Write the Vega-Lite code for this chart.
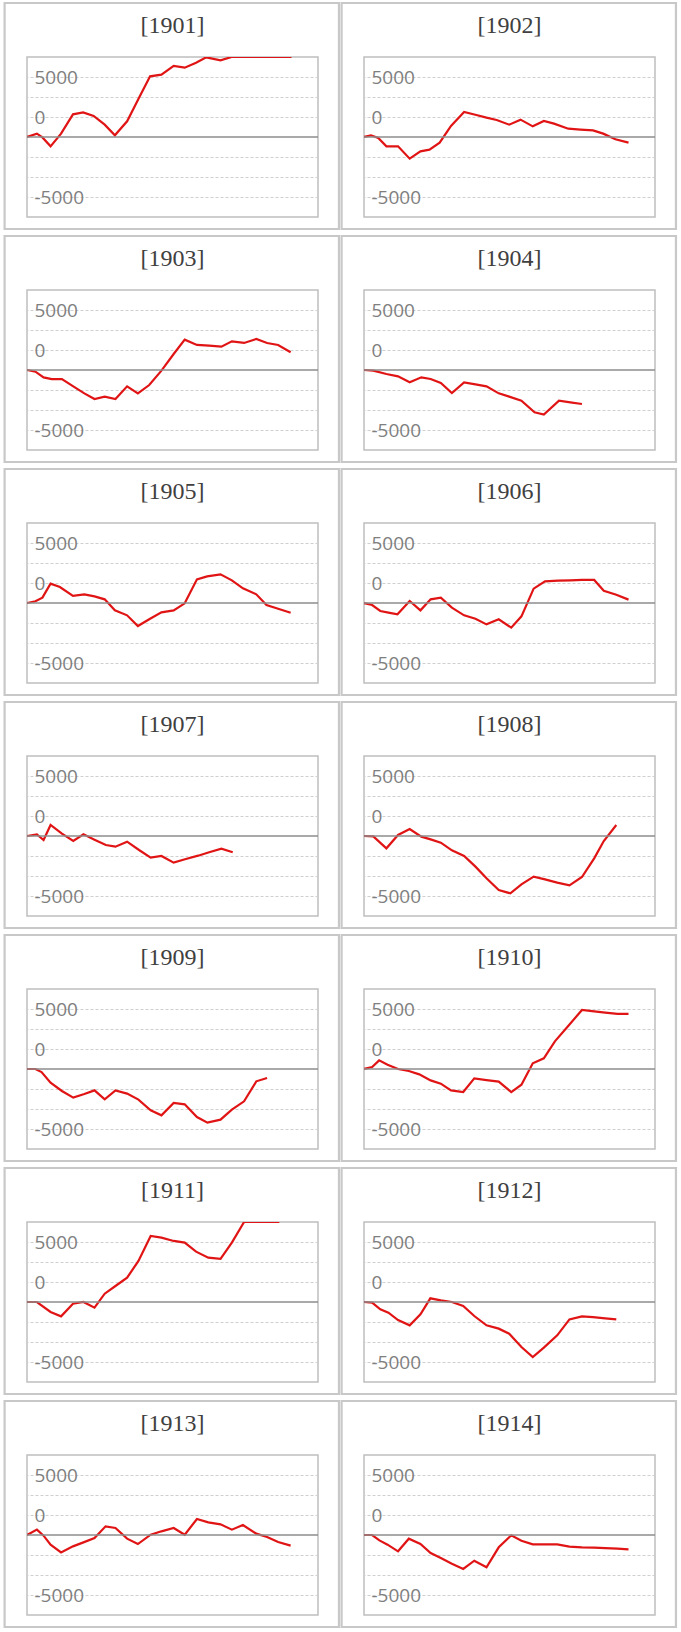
{
"$schema": "https://vega.github.io/schema/vega-lite/v6.json",
"padding": {"left": 2, "top": 1, "right": 0, "bottom": 0},
"background": "white",
"datasets": {"s": [
{"year":1901,"x":0,"v":0},{"year":1901,"x":3.4,"v":420},{"year":1901,"x":5.3,"v":-50},{"year":1901,"x":8.1,"v":-1170},{"year":1901,"x":11.7,"v":420},{"year":1901,"x":15.8,"v":2830},{"year":1901,"x":19.3,"v":3080},{"year":1901,"x":22.9,"v":2630},{"year":1901,"x":26.7,"v":1540},{"year":1901,"x":30.2,"v":210},{"year":1901,"x":34.4,"v":1960},{"year":1901,"x":38.5,"v":4900},{"year":1901,"x":42.3,"v":7580},{"year":1901,"x":46.2,"v":7790},{"year":1901,"x":50.4,"v":8880},{"year":1901,"x":54.2,"v":8670},{"year":1901,"x":58.1,"v":9290},{"year":1901,"x":61.6,"v":9960},{"year":1901,"x":66.5,"v":9580},{"year":1901,"x":70.3,"v":10000},{"year":1901,"x":74.5,"v":10000},{"year":1901,"x":78.7,"v":10000},{"year":1901,"x":82.9,"v":10000},{"year":1901,"x":86.7,"v":10000},{"year":1901,"x":90.9,"v":10000},
{"year":1902,"x":0,"v":0},{"year":1902,"x":2.4,"v":210},{"year":1902,"x":4.9,"v":-130},{"year":1902,"x":7.7,"v":-1170},{"year":1902,"x":11.7,"v":-1170},{"year":1902,"x":15.7,"v":-2710},{"year":1902,"x":19.4,"v":-1790},{"year":1902,"x":22.5,"v":-1580},{"year":1902,"x":26.0,"v":-710},{"year":1902,"x":29.9,"v":1380},{"year":1902,"x":34.4,"v":3130},{"year":1902,"x":38.6,"v":2750},{"year":1902,"x":42.1,"v":2420},{"year":1902,"x":45.6,"v":2130},{"year":1902,"x":49.9,"v":1540},{"year":1902,"x":53.8,"v":2170},{"year":1902,"x":58.0,"v":1330},{"year":1902,"x":61.8,"v":2000},{"year":1902,"x":65.3,"v":1670},{"year":1902,"x":70.2,"v":1040},{"year":1902,"x":74.4,"v":920},{"year":1902,"x":78.7,"v":830},{"year":1902,"x":82.2,"v":420},{"year":1902,"x":86.4,"v":-290},{"year":1902,"x":90.9,"v":-710},
{"year":1903,"x":0,"v":0},{"year":1903,"x":2.9,"v":-210},{"year":1903,"x":5.7,"v":-920},{"year":1903,"x":8.5,"v":-1130},{"year":1903,"x":12.0,"v":-1130},{"year":1903,"x":15.9,"v":-2040},{"year":1903,"x":19.7,"v":-2920},{"year":1903,"x":23.2,"v":-3630},{"year":1903,"x":26.7,"v":-3330},{"year":1903,"x":30.4,"v":-3630},{"year":1903,"x":34.4,"v":-2040},{"year":1903,"x":38.1,"v":-2920},{"year":1903,"x":42.0,"v":-1880},{"year":1903,"x":46.2,"v":-80},{"year":1903,"x":50.4,"v":2000},{"year":1903,"x":54.2,"v":3790},{"year":1903,"x":58.4,"v":3130},{"year":1903,"x":62.6,"v":3040},{"year":1903,"x":66.8,"v":2920},{"year":1903,"x":70.4,"v":3580},{"year":1903,"x":74.6,"v":3380},{"year":1903,"x":78.8,"v":3880},{"year":1903,"x":82.5,"v":3380},{"year":1903,"x":86.3,"v":3130},{"year":1903,"x":90.6,"v":2210},
{"year":1904,"x":0,"v":0},{"year":1904,"x":3.2,"v":-80},{"year":1904,"x":7.7,"v":-500},{"year":1904,"x":11.7,"v":-790},{"year":1904,"x":15.7,"v":-1540},{"year":1904,"x":19.7,"v":-920},{"year":1904,"x":22.9,"v":-1130},{"year":1904,"x":26.4,"v":-1630},{"year":1904,"x":30.2,"v":-2880},{"year":1904,"x":34.4,"v":-1540},{"year":1904,"x":38.3,"v":-1790},{"year":1904,"x":42.1,"v":-2040},{"year":1904,"x":46.3,"v":-2920},{"year":1904,"x":49.9,"v":-3330},{"year":1904,"x":54.1,"v":-3830},{"year":1904,"x":58.6,"v":-5290},{"year":1904,"x":61.8,"v":-5580},{"year":1904,"x":67.0,"v":-3830},{"year":1904,"x":70.9,"v":-4040},{"year":1904,"x":74.9,"v":-4250},
{"year":1905,"x":0,"v":0},{"year":1905,"x":2.9,"v":210},{"year":1905,"x":5.3,"v":670},{"year":1905,"x":8.1,"v":2420},{"year":1905,"x":11.3,"v":2000},{"year":1905,"x":15.8,"v":880},{"year":1905,"x":19.7,"v":1080},{"year":1905,"x":23.2,"v":830},{"year":1905,"x":26.7,"v":460},{"year":1905,"x":30.2,"v":-920},{"year":1905,"x":34.4,"v":-1540},{"year":1905,"x":38.1,"v":-2880},{"year":1905,"x":42.0,"v":-2040},{"year":1905,"x":46.2,"v":-1170},{"year":1905,"x":50.4,"v":-920},{"year":1905,"x":54.2,"v":-40},{"year":1905,"x":58.4,"v":2960},{"year":1905,"x":61.9,"v":3330},{"year":1905,"x":66.5,"v":3580},{"year":1905,"x":70.4,"v":2830},{"year":1905,"x":74.2,"v":1830},{"year":1905,"x":78.8,"v":1080},{"year":1905,"x":82.3,"v":-250},{"year":1905,"x":86.3,"v":-710},{"year":1905,"x":90.6,"v":-1210},
{"year":1906,"x":0,"v":0},{"year":1906,"x":2.8,"v":-250},{"year":1906,"x":5.6,"v":-1000},{"year":1906,"x":8.4,"v":-1210},{"year":1906,"x":11.5,"v":-1420},{"year":1906,"x":15.7,"v":250},{"year":1906,"x":19.4,"v":-920},{"year":1906,"x":22.9,"v":460},{"year":1906,"x":26.4,"v":670},{"year":1906,"x":30.2,"v":-580},{"year":1906,"x":34.4,"v":-1540},{"year":1906,"x":38.3,"v":-1960},{"year":1906,"x":42.1,"v":-2670},{"year":1906,"x":46.3,"v":-2040},{"year":1906,"x":50.6,"v":-3080},{"year":1906,"x":54.1,"v":-1670},{"year":1906,"x":58.3,"v":1790},{"year":1906,"x":62.2,"v":2710},{"year":1906,"x":66.7,"v":2790},{"year":1906,"x":70.9,"v":2830},{"year":1906,"x":74.9,"v":2880},{"year":1906,"x":79.1,"v":2880},{"year":1906,"x":82.4,"v":1540},{"year":1906,"x":86.7,"v":1040},{"year":1906,"x":90.9,"v":420},
{"year":1907,"x":0,"v":0},{"year":1907,"x":3.4,"v":210},{"year":1907,"x":5.7,"v":-500},{"year":1907,"x":8.1,"v":1380},{"year":1907,"x":12.0,"v":290},{"year":1907,"x":15.9,"v":-630},{"year":1907,"x":19.4,"v":210},{"year":1907,"x":23.2,"v":-460},{"year":1907,"x":27.1,"v":-1130},{"year":1907,"x":30.4,"v":-1330},{"year":1907,"x":34.4,"v":-710},{"year":1907,"x":38.5,"v":-1750},{"year":1907,"x":42.5,"v":-2710},{"year":1907,"x":46.2,"v":-2500},{"year":1907,"x":50.4,"v":-3330},{"year":1907,"x":54.6,"v":-2880},{"year":1907,"x":58.8,"v":-2460},{"year":1907,"x":62.6,"v":-2040},{"year":1907,"x":66.8,"v":-1580},{"year":1907,"x":70.7,"v":-2040},
{"year":1908,"x":0,"v":0},{"year":1908,"x":3.2,"v":-40},{"year":1908,"x":7.7,"v":-1540},{"year":1908,"x":11.7,"v":130},{"year":1908,"x":15.7,"v":880},{"year":1908,"x":19.7,"v":-80},{"year":1908,"x":22.9,"v":-420},{"year":1908,"x":26.4,"v":-830},{"year":1908,"x":30.2,"v":-1790},{"year":1908,"x":34.4,"v":-2500},{"year":1908,"x":38.3,"v":-3830},{"year":1908,"x":42.1,"v":-5290},{"year":1908,"x":46.3,"v":-6750},{"year":1908,"x":50.3,"v":-7170},{"year":1908,"x":54.1,"v":-6040},{"year":1908,"x":58.3,"v":-5080},{"year":1908,"x":62.2,"v":-5420},{"year":1908,"x":66.4,"v":-5830},{"year":1908,"x":70.6,"v":-6170},{"year":1908,"x":74.9,"v":-5130},{"year":1908,"x":79.1,"v":-2790},{"year":1908,"x":82.4,"v":-630},{"year":1908,"x":86.7,"v":1380},
{"year":1909,"x":0,"v":0},{"year":1909,"x":2.9,"v":0},{"year":1909,"x":5.0,"v":-380},{"year":1909,"x":8.1,"v":-1710},{"year":1909,"x":12.0,"v":-2750},{"year":1909,"x":15.9,"v":-3580},{"year":1909,"x":19.7,"v":-3130},{"year":1909,"x":23.2,"v":-2670},{"year":1909,"x":26.7,"v":-3790},{"year":1909,"x":30.4,"v":-2670},{"year":1909,"x":34.4,"v":-3080},{"year":1909,"x":38.3,"v":-3830},{"year":1909,"x":42.5,"v":-5170},{"year":1909,"x":46.2,"v":-5790},{"year":1909,"x":50.4,"v":-4250},{"year":1909,"x":54.2,"v":-4420},{"year":1909,"x":58.4,"v":-6000},{"year":1909,"x":62.0,"v":-6710},{"year":1909,"x":66.5,"v":-6330},{"year":1909,"x":70.4,"v":-5080},{"year":1909,"x":74.6,"v":-4040},{"year":1909,"x":78.8,"v":-1540},{"year":1909,"x":82.5,"v":-1130},
{"year":1910,"x":0,"v":0},{"year":1910,"x":2.8,"v":250},{"year":1910,"x":5.2,"v":1080},{"year":1910,"x":8.1,"v":540},{"year":1910,"x":11.7,"v":0},{"year":1910,"x":15.4,"v":-250},{"year":1910,"x":19.0,"v":-670},{"year":1910,"x":22.9,"v":-1420},{"year":1910,"x":26.4,"v":-1830},{"year":1910,"x":29.9,"v":-2670},{"year":1910,"x":34.1,"v":-2880},{"year":1910,"x":37.9,"v":-1170},{"year":1910,"x":42.1,"v":-1380},{"year":1910,"x":46.3,"v":-1580},{"year":1910,"x":50.6,"v":-2880},{"year":1910,"x":54.1,"v":-1960},{"year":1910,"x":58.0,"v":710},{"year":1910,"x":61.8,"v":1330},{"year":1910,"x":65.6,"v":3460},{"year":1910,"x":69.8,"v":5210},{"year":1910,"x":74.9,"v":7380},{"year":1910,"x":79.1,"v":7210},{"year":1910,"x":82.9,"v":7040},{"year":1910,"x":87.1,"v":6880},{"year":1910,"x":90.9,"v":6880},
{"year":1911,"x":0,"v":0},{"year":1911,"x":3.4,"v":0},{"year":1911,"x":8.1,"v":-1250},{"year":1911,"x":11.7,"v":-1790},{"year":1911,"x":15.8,"v":-210},{"year":1911,"x":19.4,"v":0},{"year":1911,"x":23.2,"v":-710},{"year":1911,"x":26.7,"v":1040},{"year":1911,"x":30.4,"v":2000},{"year":1911,"x":34.4,"v":3040},{"year":1911,"x":38.3,"v":5130},{"year":1911,"x":42.5,"v":8250},{"year":1911,"x":46.2,"v":8040},{"year":1911,"x":50.4,"v":7630},{"year":1911,"x":54.2,"v":7420},{"year":1911,"x":58.1,"v":6290},{"year":1911,"x":62.3,"v":5540},{"year":1911,"x":66.5,"v":5380},{"year":1911,"x":70.4,"v":7420},{"year":1911,"x":74.6,"v":10000},{"year":1911,"x":78.8,"v":10000},{"year":1911,"x":82.8,"v":10000},{"year":1911,"x":86.7,"v":10000},
{"year":1912,"x":0,"v":0},{"year":1912,"x":2.8,"v":-80},{"year":1912,"x":5.6,"v":-920},{"year":1912,"x":8.4,"v":-1330},{"year":1912,"x":11.7,"v":-2250},{"year":1912,"x":15.7,"v":-2920},{"year":1912,"x":19.4,"v":-1540},{"year":1912,"x":22.8,"v":460},{"year":1912,"x":26.4,"v":210},{"year":1912,"x":30.2,"v":0},{"year":1912,"x":34.1,"v":-500},{"year":1912,"x":37.9,"v":-1750},{"year":1912,"x":42.1,"v":-2920},{"year":1912,"x":46.3,"v":-3330},{"year":1912,"x":49.9,"v":-3960},{"year":1912,"x":54.1,"v":-5630},{"year":1912,"x":58.0,"v":-6880},{"year":1912,"x":61.8,"v":-5710},{"year":1912,"x":66.4,"v":-4170},{"year":1912,"x":70.6,"v":-2170},{"year":1912,"x":74.9,"v":-1790},{"year":1912,"x":78.7,"v":-1880},{"year":1912,"x":82.9,"v":-2040},{"year":1912,"x":86.7,"v":-2170},
{"year":1913,"x":0,"v":0},{"year":1913,"x":3.4,"v":670},{"year":1913,"x":5.7,"v":-80},{"year":1913,"x":8.1,"v":-1210},{"year":1913,"x":11.7,"v":-2170},{"year":1913,"x":15.8,"v":-1420},{"year":1913,"x":19.4,"v":-920},{"year":1913,"x":23.2,"v":-380},{"year":1913,"x":27.0,"v":1080},{"year":1913,"x":30.4,"v":880},{"year":1913,"x":34.4,"v":-460},{"year":1913,"x":38.1,"v":-1130},{"year":1913,"x":42.5,"v":40},{"year":1913,"x":46.2,"v":460},{"year":1913,"x":50.4,"v":880},{"year":1913,"x":54.2,"v":40},{"year":1913,"x":58.4,"v":2000},{"year":1913,"x":62.3,"v":1580},{"year":1913,"x":66.5,"v":1330},{"year":1913,"x":70.4,"v":670},{"year":1913,"x":74.2,"v":1250},{"year":1913,"x":78.8,"v":170},{"year":1913,"x":82.5,"v":-250},{"year":1913,"x":86.3,"v":-880},{"year":1913,"x":90.6,"v":-1330},
{"year":1914,"x":0,"v":0},{"year":1914,"x":2.8,"v":0},{"year":1914,"x":5.3,"v":-670},{"year":1914,"x":8.1,"v":-1210},{"year":1914,"x":11.7,"v":-2040},{"year":1914,"x":15.4,"v":-460},{"year":1914,"x":19.4,"v":-1130},{"year":1914,"x":22.9,"v":-2250},{"year":1914,"x":26.4,"v":-2880},{"year":1914,"x":30.2,"v":-3580},{"year":1914,"x":34.1,"v":-4250},{"year":1914,"x":37.9,"v":-3210},{"year":1914,"x":42.1,"v":-4040},{"year":1914,"x":46.3,"v":-1540},{"year":1914,"x":50.6,"v":-40},{"year":1914,"x":54.1,"v":-710},{"year":1914,"x":58.0,"v":-1170},{"year":1914,"x":61.8,"v":-1170},{"year":1914,"x":66.4,"v":-1170},{"year":1914,"x":70.6,"v":-1460},{"year":1914,"x":74.9,"v":-1540},{"year":1914,"x":79.1,"v":-1580},{"year":1914,"x":82.9,"v":-1630},{"year":1914,"x":87.1,"v":-1710},{"year":1914,"x":90.9,"v":-1790}
]},
"data": {"name": "s"},
"facet": {"field": "year", "type": "ordinal", "header": {"title": null, "labelExpr": "'[' + datum.value + ']'", "labelFont": "Liberation Serif", "labelFontSize": 24, "labelColor": "#404040", "labelBaseline": "alphabetic", "labelPadding": -55}},
"columns": 2,
"spacing": {"row": 73, "column": 46},
"bounds": "flush",
"resolve": {"axis": {"y": "independent"}},
"spec": {
  "width": 291,
  "height": 160,
  "layer": [
    {
      "transform": [{"filter": "datum.x === 0"}],
      "mark": {"type": "rect", "filled": false, "stroke": "#c8c8c8", "strokeWidth": 2.2, "clip": false},
      "encoding": {
        "x": {"datum": -7.7, "type": "quantitative", "scale": {"domain": [0, 100], "nice": false}, "axis": null},
        "x2": {"datum": 107.2},
        "y": {"datum": 16750, "type": "quantitative", "scale": {"domain": [-10000, 10000], "nice": false},
          "axis": {
            "orient": "left", "title": null,
            "values": [-7500, 2500, 7500],
            "labelExpr": "datum.value === 7500 ? '5000' : datum.value === 2500 ? '0' : '-5000'",
            "domain": false, "ticks": false, "grid": false,
            "labelAlign": "left", "labelBaseline": "middle", "labelPadding": -7,
            "labelFont": "Open Sans", "labelFontSize": 19, "labelColor": "#7f7f7f",
            "labelBound": false, "labelOverlap": false, "labelFlush": false
          }
        },
        "y2": {"datum": -11500}
      }
    },
    {
      "mark": {"type": "line", "color": "#e01414", "strokeWidth": 2.2, "clip": true},
      "encoding": {
        "x": {"field": "x", "type": "quantitative", "axis": null},
        "y": {"field": "v", "type": "quantitative",
          "axis": {
            "orient": "right", "title": null,
            "values": [-7500, -5000, -2500, 2500, 5000, 7500],
            "labels": false, "domain": false, "ticks": false, "grid": true,
            "gridColor": "#cfcfcf", "gridDash": [3, 2], "gridWidth": 1
          }
        }
      }
    },
    {
      "transform": [{"filter": "datum.x === 0"}],
      "mark": {"type": "rule", "color": "#8c8c8c", "strokeWidth": 1.5},
      "encoding": {
        "y": {"datum": 0, "type": "quantitative", "axis": null}
      }
    }
  ],
  "resolve": {"axis": {"y": "independent"}}
},
"config": {"view": {"stroke": "#bfbfbf", "strokeWidth": 1.5}}
}
